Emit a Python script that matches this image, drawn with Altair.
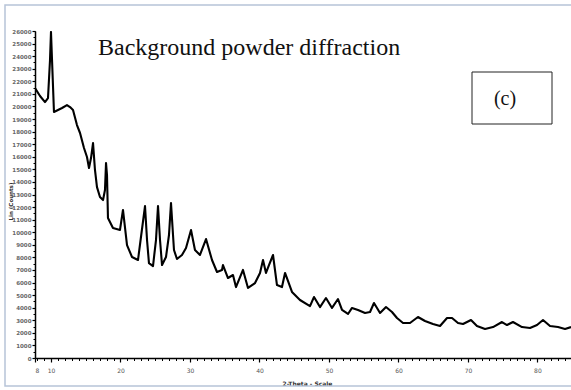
import altair as alt
import pandas as pd

# Powder pattern: 2-Theta (degrees) and Lin (Counts)
two_theta = [
    7.70, 8.42, 9.14, 9.57, 9.86, 10.00, 10.15, 10.43, 11.01, 11.59, 12.30, 12.74,
    13.17, 13.74, 14.18, 14.75, 15.18, 15.47, 15.76, 16.05, 16.33, 16.62, 17.05,
    17.49, 17.77, 17.92, 18.06, 18.20, 18.92, 19.93, 20.36, 20.94, 21.66, 22.52,
    22.95, 23.53, 23.82, 24.10, 24.68, 25.11, 25.40, 25.69, 25.98, 26.55, 26.98,
    27.27, 27.56, 27.70, 28.13, 28.85, 29.43, 30.15, 30.72, 31.44, 32.31, 33.17,
    33.89, 34.61, 34.75, 35.47, 36.19, 36.62, 37.63, 38.35, 39.36, 40.08, 40.51,
    40.94, 41.37, 41.95, 42.52, 43.24, 43.68, 44.68, 45.83, 47.27, 47.85, 48.71,
    49.57, 50.44, 51.30, 51.88, 52.74, 53.32, 54.18, 55.19, 55.91, 56.48, 57.35,
    58.21, 59.07, 59.79, 60.66, 61.66, 62.81, 63.82, 64.97, 65.98, 66.99, 67.71,
    68.57, 69.29, 70.44, 71.30, 72.46, 73.61, 74.90, 75.62, 76.48, 77.78, 78.93,
    79.94, 80.80, 81.81, 82.96, 83.97, 84.83,
]
counts = [
    21470, 20830, 20350, 20670, 23690, 25920, 23690, 19560, 19720, 19880, 20110, 19950,
    19720, 18520, 17890, 16700, 15980, 15110, 15900, 17090, 14950, 13590, 12800,
    12560, 13360, 15500, 14550, 11130, 10340, 10180, 11770, 8980, 8030, 7790,
    9620, 12080, 9380, 7550, 7310, 9380, 12080, 9380, 7390, 8030, 9780,
    12320, 9780, 8590, 7870, 8190, 8750, 10180, 8590, 8190, 9460, 7790,
    6840, 7000, 7390, 6360, 6600, 5640, 7000, 5570, 5960, 6760, 7790,
    6760, 7390, 8190, 5800, 5640, 6760, 5250, 4610, 4130, 4850, 4050,
    4770, 3980, 4690, 3820, 3500, 3980, 3820, 3580, 3660, 4370, 3580,
    4050, 3660, 3180, 2780, 2780, 3260, 2940, 2700, 2540, 3180, 3180,
    2780, 2700, 3020, 2540, 2310, 2460, 2860, 2620, 2860, 2460, 2390,
    2620, 3020, 2540, 2460, 2310, 2460,
]

x_major = [7.7, 10, 20, 30, 40, 50, 60, 70, 80]
x_minor = list(range(8, 85))
y_major = list(range(0, 26001, 1000))
y_minor = list(range(0, 26001, 500))

chart_title = "Background powder diffraction"
panel_tag = "(c)"

df = pd.DataFrame({"two_theta": two_theta, "counts": counts})

xscale = alt.Scale(domain=[7.7, 84.83], nice=False, zero=False)
yscale = alt.Scale(domain=[0, 26000], nice=False)

axis_font = "DejaVu Sans"

line = alt.Chart(df).mark_line(
    color="black", strokeWidth=2.1, strokeJoin="round", clip=True
).encode(
    x=alt.X(
        "two_theta:Q", scale=xscale,
        axis=alt.Axis(
            orient="bottom",
            values=x_major, format="d", title="2-Theta - Scale",
            domainColor="black", domainWidth=1.5, tickColor="black", tickSize=4,
            tickWidth=1.2, labelFontSize=6, labelColor="#555", labelFont=axis_font,
            labelPadding=5, grid=False, titleFontSize=6, titleFont=axis_font,
            titleFontWeight="bold", titleColor="#333", titleX=272, titleY=25,
            titleBaseline="middle",
        ),
    ),
    y=alt.Y(
        "counts:Q", scale=yscale,
        axis=alt.Axis(
            orient="left",
            values=y_major, format="d", title="Lin (Counts)",
            domainColor="black", domainWidth=1.5, tickColor="black", tickSize=3,
            tickWidth=1.2, labelFontSize=5.5, labelColor="#666", labelFont=axis_font,
            labelFontWeight="bold", labelPadding=1, grid=False, titleFontSize=5.5,
            titleFont=axis_font, titleFontWeight="bold", titleColor="#333",
            titleX=-25, titleY=170, titleAlign="center", titleBaseline="middle",
        ),
    ),
)

minor = alt.Chart(df).mark_line(opacity=0).encode(
    x=alt.X(
        "two_theta:Q", scale=xscale,
        axis=alt.Axis(orient="bottom", values=x_minor, labels=False, title=None,
                      domain=False, tickColor="black", tickSize=2.5, tickWidth=1,
                      grid=False),
    ),
    y=alt.Y(
        "counts:Q", scale=yscale,
        axis=alt.Axis(orient="left", values=y_minor, labels=False, title=None,
                      domain=False, tickColor="black", tickSize=2, tickWidth=1,
                      grid=False),
    ),
)

frame = alt.Chart(pd.DataFrame({"k": [0]})).mark_rect(
    fillOpacity=0, stroke="#b7c4d8", strokeWidth=1.5
).encode(x=alt.value(-30), x2=alt.value(560), y=alt.value(-26), y2=alt.value(355))

title_text = alt.Chart(pd.DataFrame({"t": [chart_title]})).mark_text(
    font="Liberation Serif", fontSize=24, align="left", baseline="alphabetic", color="#111"
).encode(x=alt.value(63), y=alt.value(24), text="t:N")

tag_box = alt.Chart(pd.DataFrame({"k": [0]})).mark_rect(
    fillOpacity=0, stroke="#222", strokeWidth=1
).encode(x=alt.value(437), x2=alt.value(517), y=alt.value(41), y2=alt.value(93))

tag_text = alt.Chart(pd.DataFrame({"t": [panel_tag]})).mark_text(
    font="Liberation Serif", fontSize=20, align="center", baseline="alphabetic", color="#111"
).encode(x=alt.value(470), y=alt.value(74), text="t:N")

chart = (
    alt.layer(frame, minor, line, title_text, tag_box, tag_text)
    .resolve_axis(x="independent", y="independent")
    .properties(
        width=536, height=327, autosize="none",
        padding={"left": 35, "top": 31, "right": 0, "bottom": 32},
        background="white",
    )
    .configure_view(strokeWidth=0)
)

chart.save("out.html", embed_options={"renderer": "svg", "actions": False})
